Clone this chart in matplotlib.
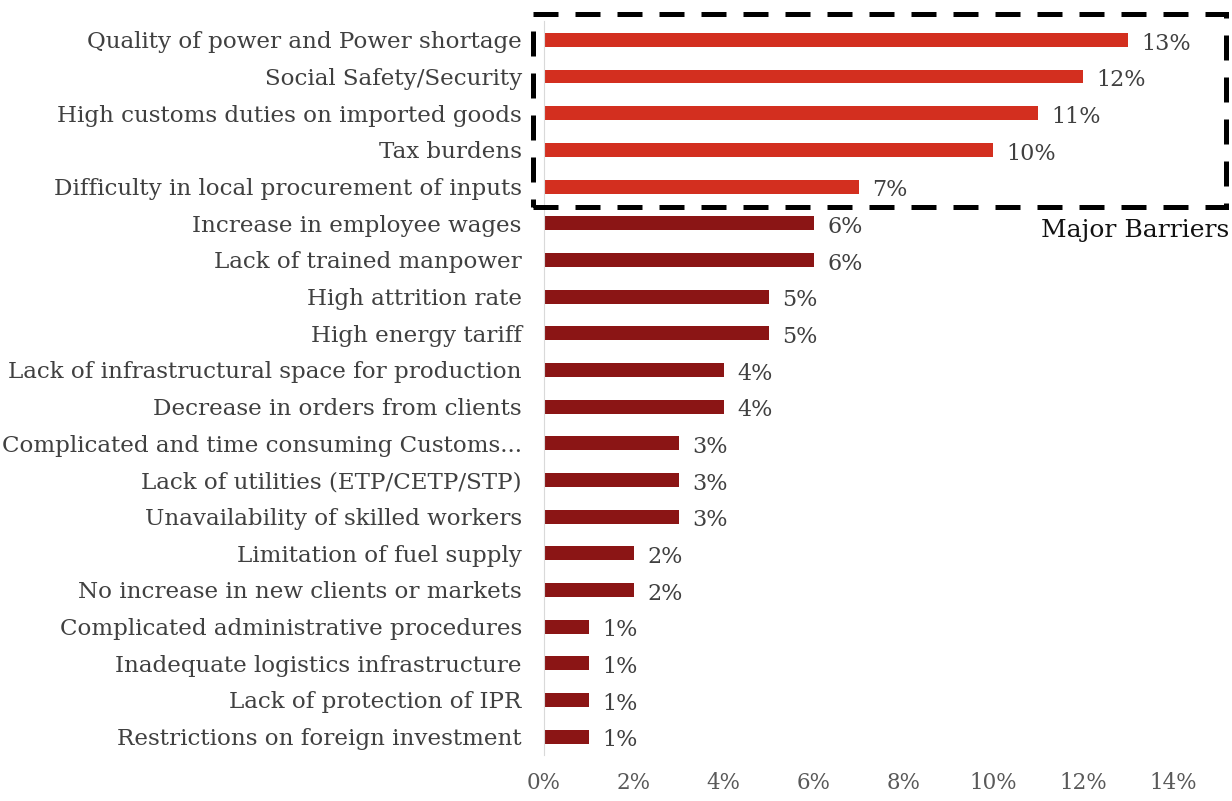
import matplotlib.pyplot as plt
from matplotlib.patches import Rectangle

barriers = [
    'Quality of power and Power shortage',
    'Social Safety/Security',
    'High customs duties on imported goods',
    'Tax burdens',
    'Difficulty in local procurement of inputs',
    'Increase in employee wages',
    'Lack of trained manpower',
    'High attrition rate',
    'High energy tariff',
    'Lack of infrastructural space for production',
    'Decrease in orders from clients',
    'Complicated and time consuming Customs...',
    'Lack of utilities (ETP/CETP/STP)',
    'Unavailability of skilled workers',
    'Limitation of fuel supply',
    'No increase in new clients or markets',
    'Complicated administrative procedures',
    'Inadequate logistics infrastructure',
    'Lack of protection of IPR',
    'Restrictions on foreign investment',
]
shares = [13, 12, 11, 10, 7, 6, 6, 5, 5, 4, 4, 3, 3, 3, 2, 2, 1, 1, 1, 1]
n_major = 5
x_ticks = [0, 2, 4, 6, 8, 10, 12, 14]

plt.rcParams['font.family'] = ['DejaVu Serif']

W, H = 1232, 801
fig = plt.figure(figsize=(W / 100, H / 100), dpi=100)
# axes placed in pixels: x 544..1173 (0..14%), y 21.5..755
ax = fig.add_axes([544 / W, 1 - 755 / H, (1173 - 544) / W, (755 - 21.5) / H])

colors = ['#D32F1F' if i < n_major else '#8B1515' for i in range(len(shares))]
ypos = list(range(len(shares)))
ax.barh(ypos, shares, height=0.38, color=colors)
ax.set_ylim(len(shares) - 0.5, -0.5)
ax.set_xlim(0, 14)

ax.set_yticks(ypos)
ax.set_yticklabels(barriers, fontsize=16.6, color='#404040')
ax.set_xticks(x_ticks)
ax.set_xticklabels(['{}%'.format(t) for t in x_ticks], fontsize=15.5, color='#595959')
ax.tick_params(axis='both', length=0)
ax.tick_params(axis='y', pad=16)
ax.tick_params(axis='x', pad=12)

for s in ['top', 'right', 'bottom']:
    ax.spines[s].set_visible(False)
ax.spines['left'].set_color('#d9d9d9')

for y, v in zip(ypos, shares):
    ax.text(v + 0.3, y + 0.1, '{}%'.format(v), va='center', ha='left',
            fontsize=16, color='#404040')

# dashed box around the major barriers
box = Rectangle((533 / W, 1 - 207 / H), (1226 - 533) / W, (207 - 14) / H,
                transform=fig.transFigure, fill=False, edgecolor='black',
                linewidth=3.6, linestyle=(0, (5, 3.4)), clip_on=False)
fig.patches.append(box)
fig.text(1229 / W, 1 - 231 / H, 'Major Barriers', ha='right', va='center',
         fontsize=18, color='#111111')

fig.savefig('out.png', dpi=100)
